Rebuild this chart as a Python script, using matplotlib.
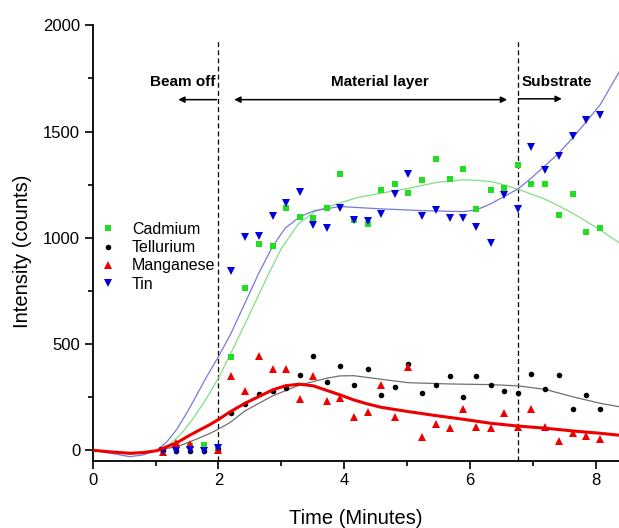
import numpy as np
import matplotlib
matplotlib.use('Agg')
import matplotlib.pyplot as plt

plt.rcParams['font.family'] = ['Liberation Sans', 'DejaVu Sans']

# sample times (minutes)
times = [1.11, 1.33, 1.55, 1.77, 1.99, 2.20, 2.42, 2.64, 2.86, 3.07, 3.29,
         3.51, 3.72, 3.94, 4.15, 4.37, 4.59, 4.80, 5.02, 5.24, 5.46, 5.68,
         5.89, 6.10, 6.33, 6.54, 6.76, 6.97, 7.19, 7.41, 7.63, 7.85, 8.07]

cadmium = [0, 15, 20, 25, 10, 441, 763, 970, 959, 1139, 1100,
           1095, 1139, 1300, 1083, 1064, 1226, 1252, 1213, 1270, 1372, 1276,
           1323, 1135, 1226, 1232, 1343, 1251, 1251, 1108, 1204, 1025, 1045]
tellurium = [0, -5, -5, -5, 5, 174, 218, 265, 281, 295, 353,
             445, 322, 398, 309, 381, 260, 300, 405, 271, 309, 348,
             251, 348, 309, 281, 271, 358, 289, 353, 193, 260, 193]
manganese = [-7, 33, 28, np.nan, 0, 351, 281, 444, 381, 381, 241,
             351, 232, 248, 155, 182, 307, 155, 391, 61, 122, 106,
             193, 111, 106, 177, 111, 193, 111, 45, 80, 69, 52]
tin = [-3, -3, 0, -3, 9, 846, 1006, 1010, 1103, 1163, 1216,
       1061, 1045, 1142, 1084, 1080, 1112, 1207, 1299, 1103, 1131, 1092,
       1092, 1053, 977, 1202, 1136, 1425, 1320, 1386, 1477, 1555, 1579]

# fitted curves
tin_fit_x = [0, 0.3, 0.59, 0.8, 1.02, 1.18, 1.34, 1.5, 1.65, 1.8, 2.0, 2.2, 2.42,
             2.64, 2.86, 3.06, 3.30, 3.53, 3.93, 4.59, 5.24, 5.89, 6.10, 6.33,
             6.54, 6.76, 6.97, 7.19, 7.41, 7.63, 7.85, 8.07, 8.37]
tin_fit_y = [0, -15, -30, -22, 0, 40, 100, 178, 258, 340, 441, 551, 692,
             833, 959, 1045, 1100, 1128, 1147, 1136, 1128, 1123, 1131, 1160,
             1194, 1229, 1280, 1338, 1398, 1469, 1547, 1626, 1780]
cd_fit_x = [0, 0.3, 0.59, 0.8, 1.02, 1.2, 1.4, 1.6, 1.8, 2.0, 2.21, 2.47,
            2.74, 3.0, 3.27, 3.53, 3.75, 4.01, 4.23, 4.59, 5.02, 5.46, 5.89,
            6.10, 6.33, 6.54, 6.76, 7.19, 7.38, 7.63, 8.07, 8.37]
cd_fit_y = [0, -8, -15, -12, 0, 22, 75, 150, 240, 340, 465, 625,
            795, 950, 1065, 1123, 1147, 1171, 1191, 1210, 1233, 1260, 1273,
            1270, 1265, 1249, 1229, 1182, 1155, 1116, 1037, 977]
te_fit_x = [0, 0.3, 0.59, 0.8, 1.02, 1.34, 1.55, 1.87, 2.0, 2.18, 2.42, 2.86,
            3.29, 3.72, 3.93, 4.15, 4.59, 5.02, 5.68, 6.33, 6.76, 7.19, 7.63,
            8.07, 8.37]
te_fit_y = [0, -10, -17, -12, 0, 17, 40, 80, 100, 130, 185, 256,
            307, 339, 350, 351, 334, 318, 312, 309, 303, 287, 252,
            221, 205]
mn_fit_x = [0, 0.3, 0.59, 0.8, 1.02, 1.34, 1.55, 1.87, 2.0, 2.18, 2.42, 2.86,
            3.07, 3.29, 3.51, 3.94, 4.15, 4.37, 4.59, 5.02, 5.46, 5.89, 6.33,
            6.76, 7.19, 7.63, 8.07, 8.37]
mn_fit_y = [0, -8, -14, -11, -2, 36, 72, 122, 145, 180, 221, 284,
            304, 311, 303, 260, 237, 218, 202, 182, 163, 146, 127,
            114, 104, 91, 80, 71]

boundaries = [2.0, 6.76]

fig = plt.figure(figsize=(6.19, 5.28), dpi=100)
ax = fig.add_axes([0.1498, 0.1275, 0.8503, 0.8246])

ax.plot(times, cadmium, 's', color='#22dd22', ms=3.8, mew=0, label='Cadmium', zorder=3)
ax.plot(times, tellurium, 'o', color='black', ms=4.0, mew=0, label='Tellurium', zorder=3)
ax.plot(times, manganese, '^', color='#ee0000', ms=5.4, mew=0, label='Manganese', zorder=3)
ax.plot(times, tin, 'v', color='#0000dd', ms=5.4, mew=0, label='Tin', zorder=3)

ax.plot(cd_fit_x, cd_fit_y, color='#80e080', lw=0.9, zorder=2)
ax.plot(te_fit_x, te_fit_y, color='#707070', lw=0.9, zorder=2)
ax.plot(tin_fit_x, tin_fit_y, color='#7878dc', lw=0.9, zorder=2)
ax.plot(mn_fit_x, mn_fit_y, color='#ee0000', lw=2.2, zorder=4)

for b in boundaries:
    ax.plot([b, b], [-49, 1930], color='black', lw=0.9, dashes=(4, 2.5), zorder=1)

# region labels
arr = dict(arrowstyle='-|>', mutation_scale=9, lw=1.1, color='black', shrinkA=0, shrinkB=0)
ax.annotate('', xy=(1.36, 1650), xytext=(1.97, 1650), arrowprops=arr)
ax.annotate('', xy=(2.25, 1650), xytext=(6.59, 1650),
            arrowprops=dict(arr, arrowstyle='<|-|>'))
ax.annotate('', xy=(7.46, 1654), xytext=(6.77, 1654), arrowprops=arr)
ax.text(1.96, 1735, 'Beam off', ha='right', va='center', fontsize=11, fontweight='bold')
ax.text(4.56, 1735, 'Material layer', ha='center', va='center', fontsize=11, fontweight='bold')
ax.text(6.82, 1735, 'Substrate', ha='left', va='center', fontsize=11, fontweight='bold')

ax.set_xlim(0, 8.37)
ax.set_ylim(-49, 2000)
ax.set_xticks([0, 2, 4, 6, 8])
ax.set_xticks([1, 3, 5, 7], minor=True)
ax.set_yticks([0, 500, 1000, 1500, 2000])
ax.set_yticks([250, 750, 1250, 1750], minor=True)
ax.spines['top'].set_visible(False)
ax.spines['right'].set_visible(False)
ax.spines['left'].set_linewidth(1.3)
ax.spines['bottom'].set_linewidth(1.3)
ax.tick_params(which='major', length=6, width=1.2, labelsize=12, pad=3)
ax.tick_params(which='minor', length=3.6, width=1.2)

ax.set_xlabel('Time (Minutes)', fontsize=14.5)
ax.set_ylabel('Intensity (counts)', fontsize=14.5)
ax.xaxis.set_label_coords(0.5, -0.11)
ax.yaxis.set_label_coords(-0.115, 0.48)

ax.legend(loc='upper left', bbox_to_anchor=(100 / 619, 1 - 222 / 528),
          bbox_transform=fig.transFigure, frameon=False, fontsize=11.5,
          handlelength=1.0, handletextpad=1.0, labelspacing=0.2,
          borderpad=0, borderaxespad=0, markerscale=1.0)

fig.savefig('out.png', dpi=100)
